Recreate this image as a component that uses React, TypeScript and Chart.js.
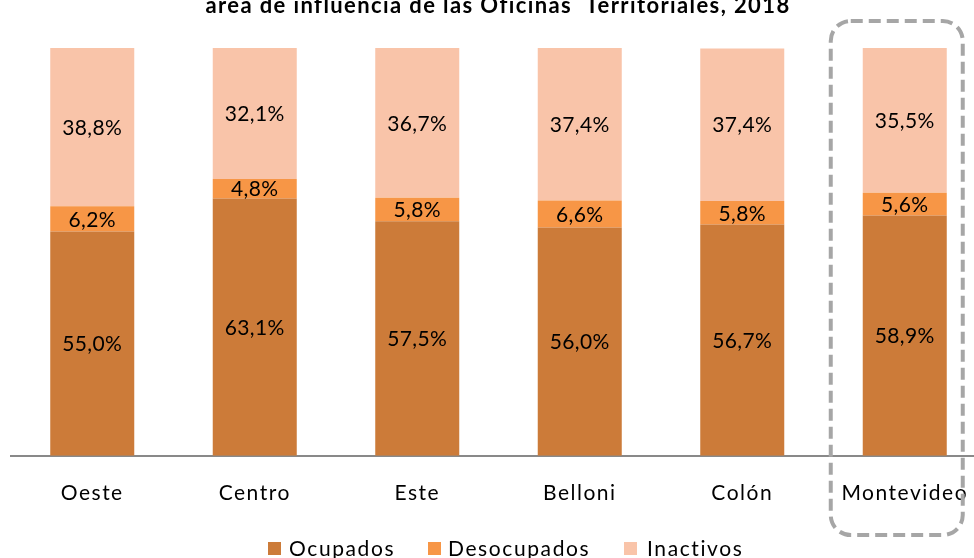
import React, { useEffect, useRef } from "react";
import { Chart, registerables } from "chart.js";

Chart.register(...registerables);

const TITLE = "área de influencia de las Oficinas  Territoriales, 2018";
const categories = ["Oeste", "Centro", "Este", "Belloni", "Colón", "Montevideo"];
const ocupados = [55.0, 63.1, 57.5, 56.0, 56.7, 58.9];
const desocupados = [6.2, 4.8, 5.8, 6.6, 5.8, 5.6];
const inactivos = [38.8, 32.1, 36.7, 37.4, 37.4, 35.5];
const seriesNames = ["Ocupados", "Desocupados", "Inactivos"];
const seriesColors = ["#CC7B39", "#F79646", "#F9C4A9"];

const FONT = "Lato, 'Open Sans', sans-serif";

const fmt = (v: number) => v.toFixed(1).replace(".", ",") + "%";

const overlayPlugin = {
  id: "overlay",
  beforeLayout(chart: any) {
    chart.ctx.letterSpacing = "1.5px";
  },
  beforeDraw(chart: any) {
    chart.ctx.letterSpacing = "1.5px";
  },
  afterDatasetsDraw(chart: any) {
    const ctx = chart.ctx;
    ctx.save();
    ctx.letterSpacing = "0.4px";
    ctx.fillStyle = "#000";
    ctx.font = `21px ${FONT}`;
    ctx.textAlign = "center";
    ctx.textBaseline = "middle";
    chart.data.datasets.forEach((ds: any, di: number) => {
      const meta = chart.getDatasetMeta(di);
      meta.data.forEach((el: any, i: number) => {
        const { x, y, base } = el.getProps(["x", "y", "base"], true);
        ctx.fillText(fmt(ds.data[i]), x, (y + base) / 2 + 1);
      });
    });
    ctx.restore();
  },
  afterDraw(chart: any) {
    const ctx = chart.ctx;
    ctx.save();
    // title
    ctx.letterSpacing = "1.4px";
    ctx.fillStyle = "#000";
    ctx.font = `bold 22px ${FONT}`;
    ctx.textAlign = "center";
    ctx.textBaseline = "alphabetic";
    ctx.fillText(TITLE, 498, 13);

    // dashed highlight box around Montevideo
    const xs = chart.scales.x;
    const cx = xs.getPixelForValue(5);
    ctx.strokeStyle = "#A6A6A6";
    ctx.lineWidth = 4;
    ctx.setLineDash([12, 6]);
    ctx.beginPath();
    ctx.roundRect(cx - 74, 21, 132, 514, 20);
    ctx.stroke();
    ctx.setLineDash([]);

    // legend
    const items = [
      { sq: 268, tx: 289 },
      { sq: 428, tx: 448 },
      { sq: 624, tx: 647 },
    ];
    ctx.letterSpacing = "1.6px";
    ctx.font = `21px ${FONT}`;
    ctx.textAlign = "left";
    ctx.textBaseline = "middle";
    chart.data.datasets.forEach((ds: any, i: number) => {
      const it = items[i];
      ctx.fillStyle = ds.backgroundColor;
      ctx.fillRect(it.sq, 542, 13, 13);
      ctx.fillStyle = "#000";
      ctx.fillText(ds.label, it.tx, 549);
    });
    ctx.restore();
  },
};

export default function App() {
  const ref = useRef<HTMLCanvasElement>(null);
  useEffect(() => {
    if (!ref.current) return;
    const data = [ocupados, desocupados, inactivos];
    const chart = new Chart(ref.current, {
      type: "bar",
      data: {
        labels: categories,
        datasets: data.map((d, i) => ({
          label: seriesNames[i],
          data: d,
          backgroundColor: seriesColors[i],
          borderWidth: 0,
          barPercentage: 0.517,
          categoryPercentage: 1,
        })),
      },
      options: {
        responsive: false,
        animation: false,
        devicePixelRatio: 1,
        layout: { padding: { left: 11, right: 14, top: 48, bottom: 27 } },
        plugins: {
          legend: { display: false },
          title: { display: false },
          tooltip: { enabled: false },
        },
        scales: {
          x: {
            stacked: true,
            grid: { display: false, drawTicks: false },
            border: { display: true, color: "#898989", width: 2 },
            ticks: {
              color: "#000",
              font: { family: FONT, size: 21 },
              padding: 25,
              maxRotation: 0,
              autoSkip: false,
            },
          },
          y: {
            stacked: true,
            display: false,
            min: 0,
            max: 100,
          },
        },
      },
      plugins: [overlayPlugin],
    });
    return () => chart.destroy();
  }, []);
  return (
    <div
      style={{
        position: "fixed",
        left: 0,
        top: 0,
        width: 974,
        height: 558,
        overflow: "hidden",
        background: "#fff",
      }}
    >
      <canvas ref={ref} width={1000} height={558} style={{ width: 1000, height: 558, display: "block" }} />
    </div>
  );
}
